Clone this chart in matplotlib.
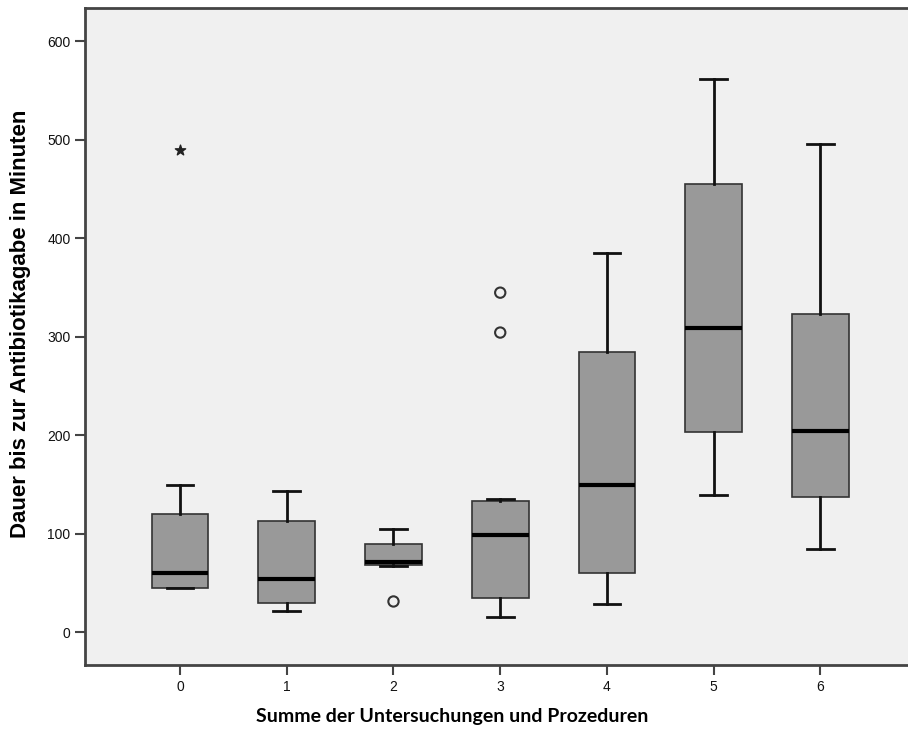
import matplotlib.pyplot as plt
import numpy as np

# Boxplot summary values (minutes)
groups = [0, 1, 2, 3, 4, 5, 6]
whisker_lo = [45, 22, 67, 15.5, 28.5, 140, 85]
q1 = [45, 30, 69, 35, 60, 204, 138]
median = [60, 54.5, 72, 98.5, 150, 309.5, 205]
q3 = [120, 113.5, 90, 133, 284.5, 455, 323.5]
whisker_hi = [150, 144, 105, 135.5, 385, 561.5, 495.5]

# Outliers: circles ("o") and extreme values ("*")
outlier_group = [2, 3, 3]
outlier_value = [31.5, 304.5, 345]
extreme_group = [0]
extreme_value = [490]

stats = []
for g, lo, a, m, b, hi in zip(groups, whisker_lo, q1, median, q3, whisker_hi):
    stats.append({'label': str(g), 'whislo': lo, 'q1': a, 'med': m,
                  'q3': b, 'whishi': hi, 'fliers': []})

fig = plt.figure(figsize=(9.08, 7.33), dpi=100)
ax = fig.add_axes([85 / 908, 68 / 733, 1 - 85 / 908, (665 - 8) / 733])
ax.set_facecolor('#f0f0f0')

ax.bxp(stats, positions=groups, widths=0.53, patch_artist=True, showfliers=False,
       boxprops=dict(facecolor='#999999', edgecolor='#333333', linewidth=1.2),
       medianprops=dict(color='black', linewidth=3),
       whiskerprops=dict(color='#111111', linewidth=2),
       capprops=dict(color='#111111', linewidth=2),
       capwidths=0.25)

ax.scatter(outlier_group, outlier_value, marker='o', s=55, facecolors='none',
           edgecolors='#333333', linewidths=1.5, zorder=4)
ax.scatter(extreme_group, extreme_value, marker='*', s=60, color='#222222', zorder=4)

ax.set_xlim(-0.89, 6.82)
ax.set_ylim(-33, 634)
ax.set_yticks([0, 100, 200, 300, 400, 500, 600])
ax.set_xticks(groups)
ax.set_xticklabels([str(g) for g in groups])

for s in ['left', 'bottom', 'top']:
    ax.spines[s].set_color('#444444')
    ax.spines[s].set_linewidth(2)
ax.spines['right'].set_visible(False)
ax.tick_params(axis='both', direction='out', length=7, width=1.5, color='#444444',
               labelsize=10, labelcolor='#111111')
for lab in ax.get_xticklabels() + ax.get_yticklabels():
    lab.set_family(['Liberation Sans Narrow', 'Liberation Sans'])

ax.set_ylabel('Dauer bis zur Antibiotikagabe in Minuten', fontsize=16, fontweight='bold',
              family=['Liberation Sans Narrow', 'Liberation Sans'])
ax.yaxis.set_label_coords(-0.066, 0.52)
ax.set_xlabel('Summe der Untersuchungen und Prozeduren', fontsize=14, fontweight='bold',
              family=['Lato', 'DejaVu Sans'])
ax.xaxis.set_label_coords(0.446, -0.065)
ax.xaxis.label.set_va('top')

fig.savefig('out.png', dpi=100)
